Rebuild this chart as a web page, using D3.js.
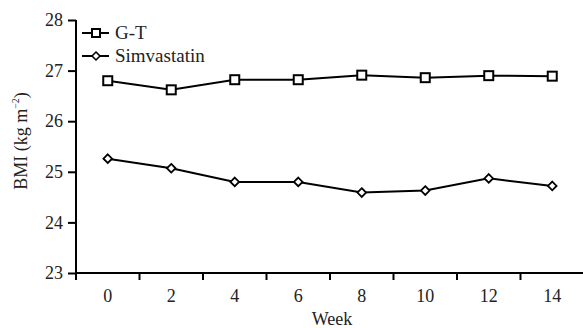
<!DOCTYPE html>
<html><head><meta charset="utf-8">
<script src="https://cdn.jsdelivr.net/npm/d3@7"></script>
</head><body style="margin:0;background:#fff"><svg id="c" width="583" height="328" font-family="Liberation Serif" style="display:block"></svg>
<script>
const weeks = ["0","2","4","6","8","10","12","14"];
const gtValues = [26.8, 26.62, 26.82, 26.82, 26.91, 26.86, 26.9, 26.89];
const simValues = [25.26, 25.07, 24.8, 24.8, 24.59, 24.63, 24.87, 24.72];
const yTicks = [23, 24, 25, 26, 27, 28];
const seriesNames = ["G-T", "Simvastatin"];

(function () {
const FONT = "Liberation Serif";
const svg = d3.select("#c");
const mLeft = 76, mRight = 584, mTop = 20, mBottom = 273;
const x = d3.scaleBand().domain(weeks).range([mLeft, mRight]);
const y = d3.scaleLinear().domain([23, 28]).range([mBottom, mTop]);
const cx = d => x(d) + x.bandwidth() / 2;

// y axis
const ya = svg.append("g").attr("transform", `translate(${mLeft},0)`)
  .call(d3.axisLeft(y).tickValues(yTicks).tickSize(8).tickPadding(5).tickFormat(d3.format("d")));
ya.attr("font-family", FONT).attr("font-size", 18);
ya.select(".domain").attr("stroke", "#000").attr("stroke-width", 2).attr("d", `M0,${mTop}V${mBottom}`);
ya.selectAll(".tick line").attr("stroke-width", 2);
ya.selectAll("text").attr("font-family", FONT).attr("font-size", 18).attr("fill", "#222");

// x axis
const xa = svg.append("g").attr("transform", `translate(0,${mBottom})`)
  .call(d3.axisBottom(x).tickSize(0).tickPadding(16));
xa.attr("font-family", FONT).attr("font-size", 18);
xa.select(".domain").attr("stroke", "#000").attr("stroke-width", 2).attr("d", `M${mLeft},0H${mRight}`);
xa.selectAll("text").attr("font-family", FONT).attr("font-size", 18).attr("fill", "#222");
const bounds = weeks.map(w => x(w)).concat([mRight]);
svg.append("g").selectAll("line").data(bounds).join("line")
  .attr("x1", d => d).attr("x2", d => d).attr("y1", mBottom).attr("y2", mBottom + 7)
  .attr("stroke", "#000").attr("stroke-width", 2);

// axis titles
svg.append("text").attr("x", 332).attr("y", 325).attr("text-anchor", "middle")
  .attr("font-family", FONT).attr("font-size", 18).attr("fill", "#222").text("Week");
const yl = svg.append("text").attr("transform", "translate(27,141) rotate(-90)").attr("text-anchor", "middle")
  .attr("font-family", FONT).attr("font-size", 18).attr("fill", "#222");
yl.append("tspan").text("BMI (kg m");
yl.append("tspan").attr("dy", -8).attr("font-size", 10).text("\u22122");
yl.append("tspan").attr("dy", 8).text(")");

const line = d3.line().x((d, i) => cx(weeks[i])).y(d => y(d));
svg.append("path").datum(gtValues).attr("d", line).attr("fill", "none").attr("stroke", "#000").attr("stroke-width", 2);
svg.append("path").datum(simValues).attr("d", line).attr("fill", "none").attr("stroke", "#000").attr("stroke-width", 2);

const sq = 9;
svg.append("g").selectAll("rect").data(gtValues).join("rect")
  .attr("x", (d, i) => cx(weeks[i]) - sq / 2).attr("y", d => y(d) - sq / 2)
  .attr("width", sq).attr("height", sq).attr("fill", "#fff").attr("stroke", "#000").attr("stroke-width", 2);
const diamond = d3.symbol().type(d3.symbolDiamond2).size(48);
svg.append("g").selectAll("path").data(simValues).join("path")
  .attr("transform", (d, i) => `translate(${cx(weeks[i])},${y(d)})`)
  .attr("d", diamond).attr("fill", "#fff").attr("stroke", "#000").attr("stroke-width", 1.8);

// legend
const lg = svg.append("g");
const ly = [33, 56];
seriesNames.forEach((n, i) => {
  lg.append("line").attr("x1", 82).attr("x2", 109).attr("y1", ly[i]).attr("y2", ly[i]).attr("stroke", "#000").attr("stroke-width", 2);
  if (i === 0) lg.append("rect").attr("x", 96 - 4).attr("y", ly[i] - 4).attr("width", 8).attr("height", 8).attr("fill", "#fff").attr("stroke", "#000").attr("stroke-width", 2);
  else lg.append("path").attr("transform", `translate(96,${ly[i]})`).attr("d", d3.symbol().type(d3.symbolDiamond2).size(40)).attr("fill", "#fff").attr("stroke", "#000").attr("stroke-width", 1.6);
  lg.append("text").attr("x", 115).attr("y", ly[i] + 6).attr("font-family", FONT).attr("font-size", 19).attr("fill", "#222").text(n);
});
})();
</script></body></html>
